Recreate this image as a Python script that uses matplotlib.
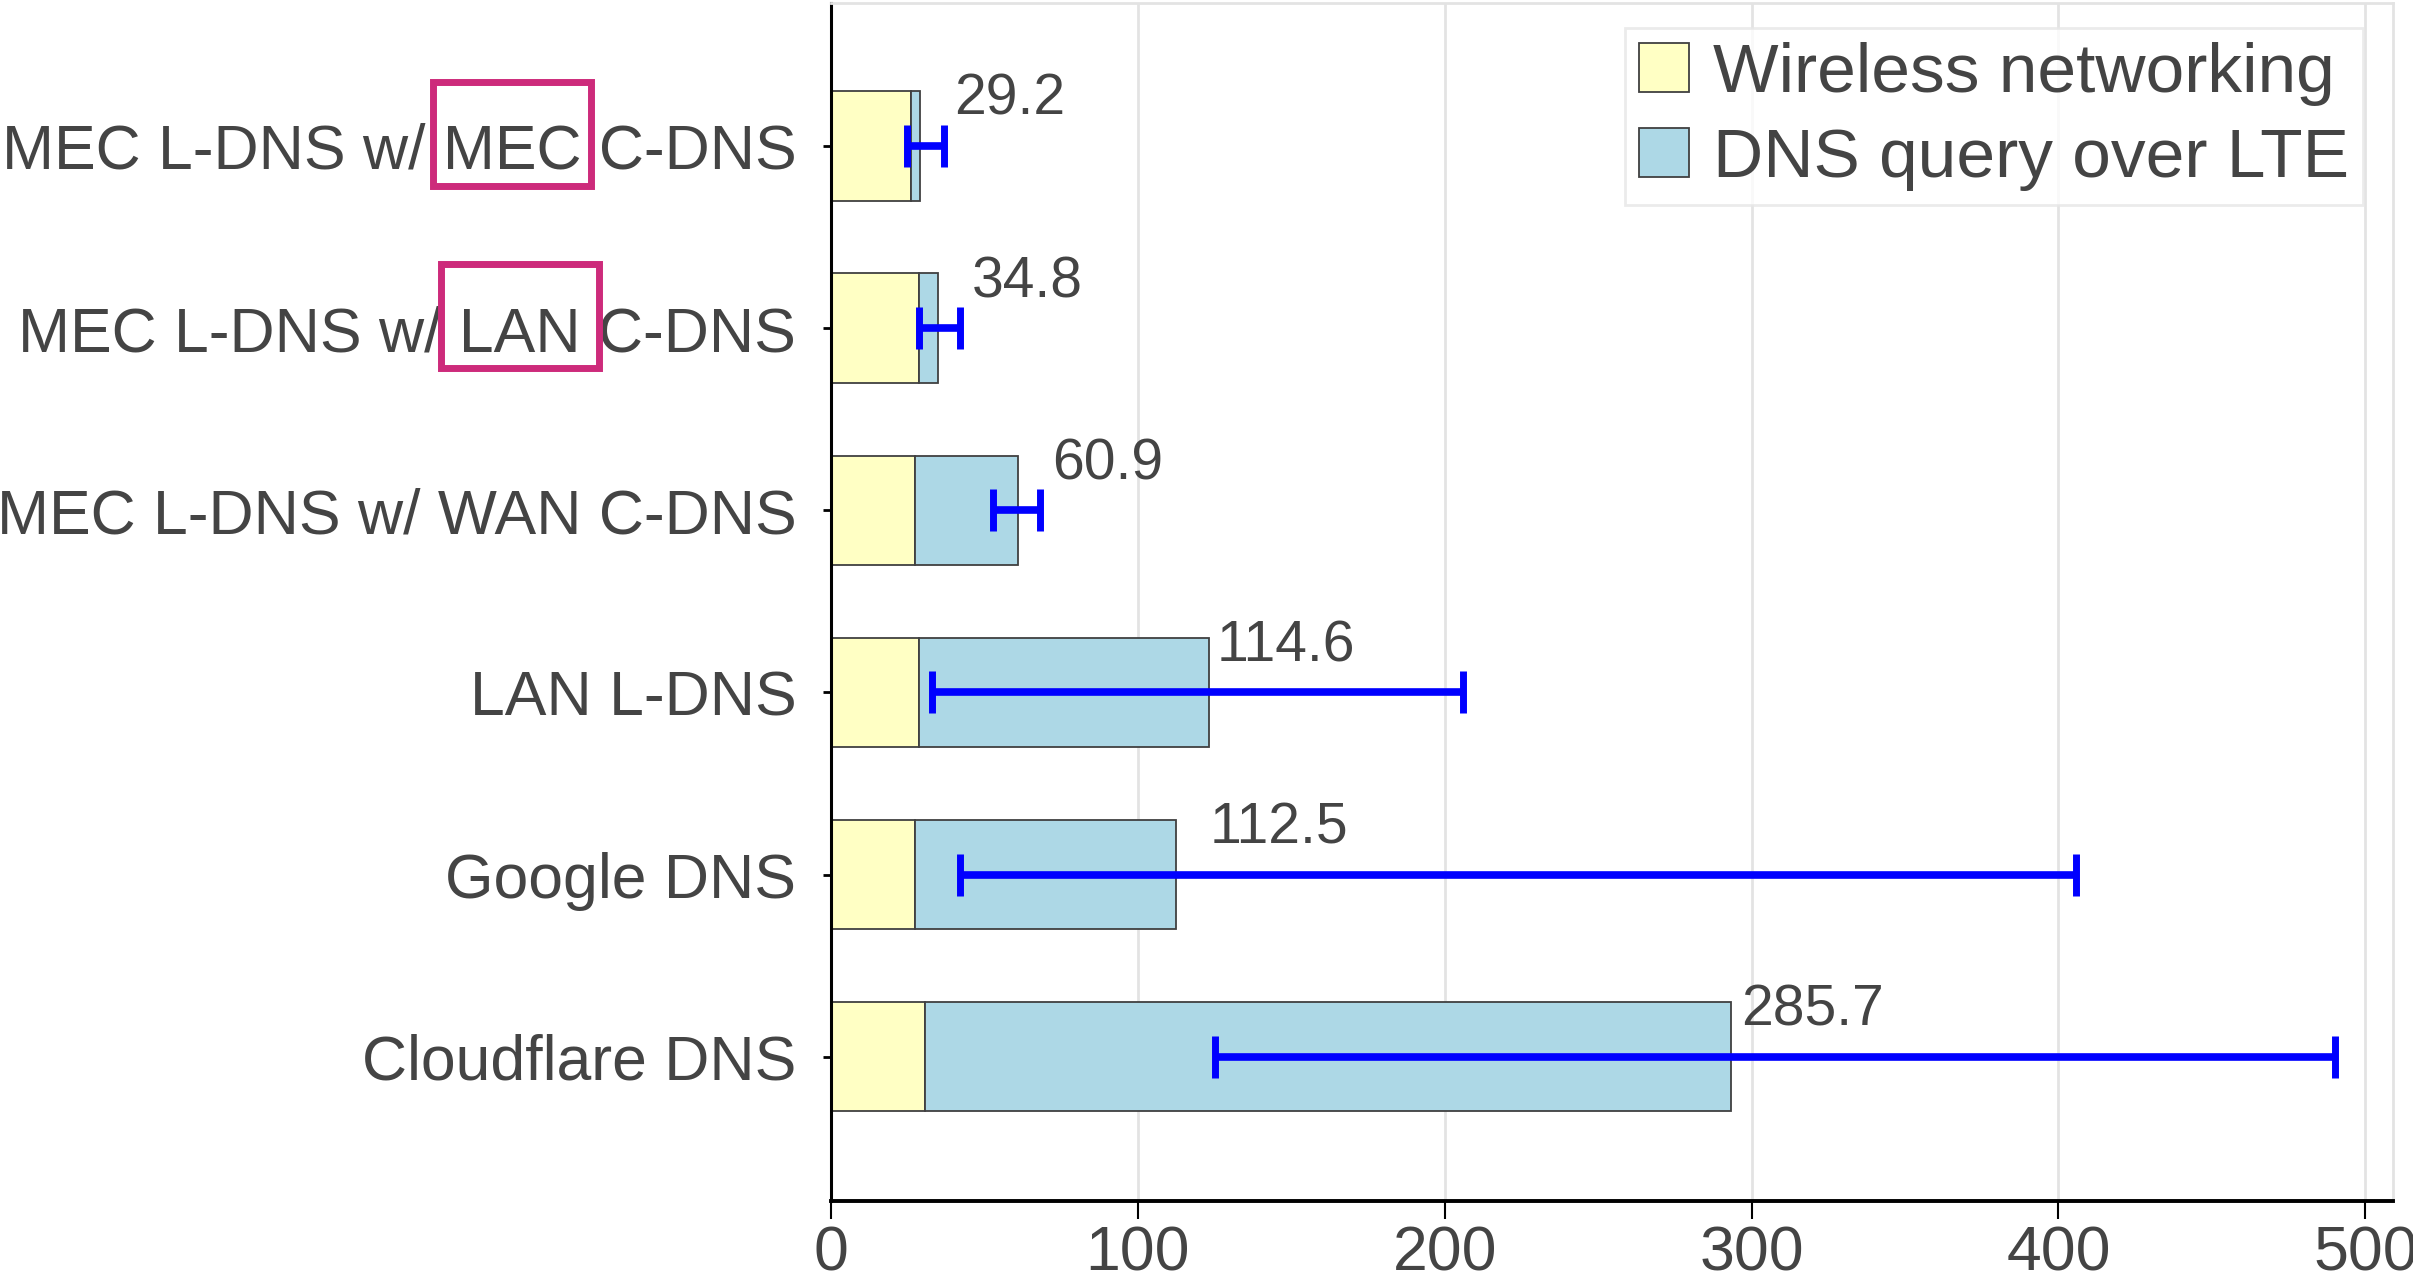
import matplotlib
matplotlib.use('Agg')
import matplotlib.pyplot as plt
from matplotlib.patches import Rectangle
import numpy as np

# ---------------- data ----------------
categories = ["Cloudflare DNS", "Google DNS", "LAN L-DNS",
              "MEC L-DNS w/ WAN C-DNS", "MEC L-DNS w/ LAN C-DNS",
              "MEC L-DNS w/ MEC C-DNS"]
wireless = [30.7, 27.4, 28.6, 27.4, 28.7, 26.0]
dns_query = [262.5, 85.0, 94.5, 33.5, 6.0, 3.0]
err_low = [125.2, 42.1, 32.9, 52.8, 28.8, 24.7]
err_high = [490.0, 405.8, 205.9, 68.0, 42.1, 36.9]
value_labels = ["285.7", "112.5", "114.6", "60.9", "34.8", "29.2"]
highlight_words = {"MEC L-DNS w/ MEC C-DNS": "MEC",
                   "MEC L-DNS w/ LAN C-DNS": "LAN"}
xticks = [0, 100, 200, 300, 400, 500]
legend_labels = ["Wireless networking", "DNS query over LTE"]

# ---------------- style ----------------
FAM = ['Liberation Sans', 'DejaVu Sans']
plt.rcParams['font.family'] = FAM
TXT = '#444444'
YELLOW = '#FFFFC4'
BLUE = '#ADD8E6'
EDGE = '#404040'
GRID = '#e3e3e3'
MAGENTA = '#CD2B7B'

fig = plt.figure(figsize=(24.13, 12.80), dpi=100)
ax = fig.add_axes([0.3444, 0.062, 0.9917 - 0.3444, 0.9977 - 0.062])

y = np.arange(len(categories))
h = 0.6
ax.barh(y, wireless, height=h, color=YELLOW, edgecolor=EDGE, linewidth=1.3,
        zorder=2, label=legend_labels[0])
ax.barh(y, dns_query, left=wireless, height=h, color=BLUE, edgecolor=EDGE,
        linewidth=1.3, zorder=2, label=legend_labels[1])

lo = np.array(err_low)
hi = np.array(err_high)
ax.errorbar((lo + hi) / 2, y, xerr=(hi - lo) / 2, fmt='none', ecolor='#0000FF',
            elinewidth=5.5, capsize=15, capthick=5.0, zorder=4)

for yi, lab in zip(y, value_labels):
    ax.text(float(lab) + 11, yi + 0.17, lab, ha='left', va='baseline',
            fontsize=41, color=TXT, zorder=5)

ax.set_xlim(0, 509)
ax.set_ylim(-0.79, 5.785)
ax.set_xticks(xticks)
ax.set_yticks(y)
ax.set_yticklabels(categories)
ax.xaxis.grid(True, color=GRID, linewidth=2.0, zorder=0)
ax.set_axisbelow(True)

ax.tick_params(axis='y', direction='inout', length=12, width=2, colors='black',
               labelcolor=TXT, labelsize=45, pad=19)
ax.tick_params(axis='x', direction='out', length=13, width=1.5, colors='black',
               labelcolor=TXT, labelsize=45, pad=4)

ax.spines['left'].set_linewidth(2.2)
ax.spines['left'].set_color('black')
ax.spines['bottom'].set_linewidth(2.8)
ax.spines['bottom'].set_color('black')
for s in ('top', 'right'):
    ax.spines[s].set_color(GRID)
    ax.spines[s].set_linewidth(2.0)

leg = ax.legend(loc='upper right', bbox_to_anchor=(0.981, 0.979),
                borderaxespad=0, fontsize=50, frameon=True, fancybox=False,
                handlelength=0.72, handleheight=0.72, handletextpad=0.35,
                labelspacing=0.3, borderpad=0.2, edgecolor='#e6e6e6')
leg.get_frame().set_linewidth(2.0)
for t in leg.get_texts():
    t.set_color(TXT)

# ---------------- highlight boxes around words in tick labels ----------------
fig.canvas.draw()
renderer = fig.canvas.get_renderer()


def text_width(s, size):
    t = fig.text(0, 0, s, fontsize=size, family=FAM)
    w = t.get_window_extent(renderer).width
    t.remove()
    return w


BOX_W = 158  # pixels
for lbl, yi in zip(ax.get_yticklabels(), y):
    s = lbl.get_text()
    if s in highlight_words:
        word = highlight_words[s]
        idx = s.index(word, 4)
        size = lbl.get_fontsize()
        bb = lbl.get_window_extent(renderer)
        right = bb.x0 + text_width(s[:idx + len(word)], size)
        left = right - text_width(word, size)
        cx = (left + right) / 2
        ty = ax.transData.transform((0, yi))[1]
        x0, x1 = cx - BOX_W / 2, cx + BOX_W / 2
        y0, y1 = ty - 40, ty + 64
        inv = fig.transFigure.inverted()
        (fx0, fy0), (fx1, fy1) = inv.transform([(x0, y0), (x1, y1)])
        fig.patches.append(Rectangle((fx0, fy0), fx1 - fx0, fy1 - fy0,
                                     transform=fig.transFigure, fill=False,
                                     edgecolor=MAGENTA, linewidth=5.0,
                                     zorder=10))

fig.savefig('out.png', dpi=100)
